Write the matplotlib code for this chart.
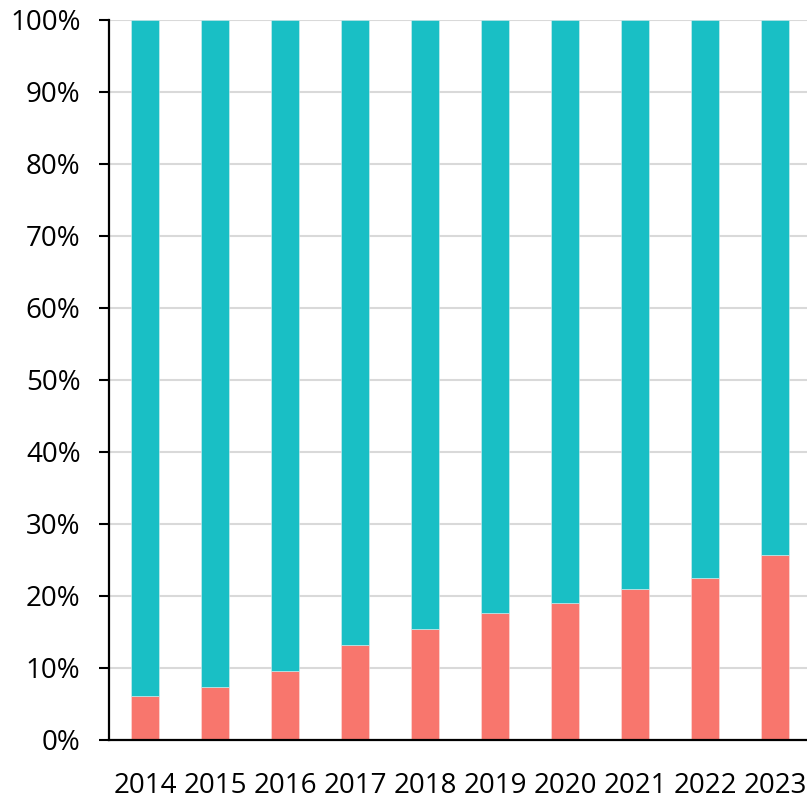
import numpy as np
import matplotlib
matplotlib.use("Agg")
import matplotlib.pyplot as plt
from matplotlib.ticker import MultipleLocator, FuncFormatter

years = ["2014", "2015", "2016", "2017", "2018", "2019", "2020", "2021", "2022", "2023"]
share_red = [6.1, 7.25, 9.5, 13.1, 15.35, 17.6, 19.0, 20.9, 22.5, 25.7]
share_teal = [100 - v for v in share_red]

plt.rcParams['font.family'] = ['Open Sans', 'DejaVu Sans']

fig = plt.figure(figsize=(8.07, 8.0), dpi=100)
ax = fig.add_axes([109 / 807, 60.5 / 800, 698 / 807, 719.5 / 800])

x = np.arange(len(years))
ax.bar(x, share_red, width=0.4, color="#F8766D", edgecolor="#fbe0de", linewidth=0.4, zorder=3)
ax.bar(x, share_teal, bottom=share_red, width=0.4, color="#19BFC5",
       edgecolor="#d5f0f1", linewidth=0.4, zorder=3)

ax.set_xlim(-0.514, 9.457)
ax.set_ylim(0, 100)
ax.yaxis.set_major_locator(MultipleLocator(10))
ax.yaxis.set_major_formatter(FuncFormatter(lambda v, p: f"{v:.0f}%"))
ax.set_xticks(x)
ax.set_xticklabels(years)

ax.grid(axis="y", color="#d9d9d9", linewidth=1.5, zorder=0)
ax.set_axisbelow(True)
for s in ["top", "right"]:
    ax.spines[s].set_visible(False)
for s in ["left", "bottom"]:
    ax.spines[s].set_linewidth(1.6)
    ax.spines[s].set_color("black")
    ax.spines[s].set_zorder(4)

ax.tick_params(axis="y", length=7, width=1.5, pad=13.5, labelsize=20, colors="black")
ax.tick_params(axis="x", length=0, pad=23.5, labelsize=20, colors="black")

fig.savefig("out.png", dpi=100)
